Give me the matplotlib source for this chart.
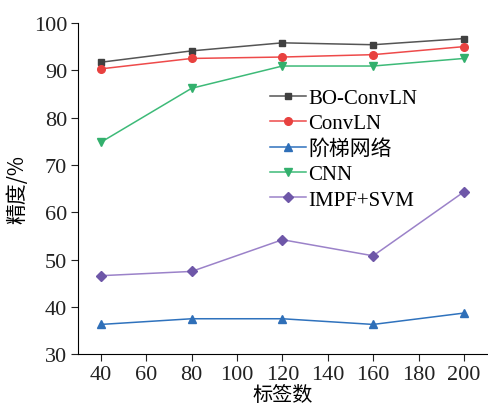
import matplotlib
matplotlib.use('Agg')
import matplotlib.pyplot as plt

plt.rcParams['font.family'] = ['Liberation Serif', 'Noto Sans CJK SC']

x = [40, 80, 120, 160, 200]
bo_convln = [91.7, 94.1, 95.8, 95.4, 96.7]
convln = [90.3, 92.5, 92.8, 93.3, 95.0]
ladder = [36.3, 37.5, 37.5, 36.3, 38.7]
cnn = [74.8, 86.2, 90.9, 90.9, 92.5]
impf_svm = [46.6, 47.5, 54.2, 50.8, 64.3]
names = ['BO-ConvLN', 'ConvLN', '阶梯网络', 'CNN', 'IMPF+SVM']

fig = plt.figure(figsize=(4.89, 4.06), dpi=100)
ax = fig.add_axes([0.16, 0.125, 0.835, 0.816])

ax.plot(x, bo_convln, color='#555555', marker='s', ms=5, mfc='#404040', mec='#404040', lw=1.1, label=names[0])
ax.plot(x, convln, color='#ee4a4a', marker='o', ms=5.5, mfc='#e8413f', mec='#e8413f', lw=1.1, label=names[1])
ax.plot(x, ladder, color='#2f72bd', marker='^', ms=6, mfc='#2f6fb8', mec='#2f6fb8', lw=1.1, label=names[2])
ax.plot(x, cnn, color='#3dba78', marker='v', ms=6, mfc='#33b06d', mec='#33b06d', lw=1.1, label=names[3])
ax.plot(x, impf_svm, color='#9b82c9', marker='D', ms=5, mfc='#6e57a8', mec='#6e57a8', lw=1.1, label=names[4])

ax.set_xlim(30, 210)
ax.set_ylim(30, 100)
ax.set_xticks(range(40, 201, 20))
ax.set_yticks(range(30, 101, 10))
ax.spines['top'].set_visible(False)
ax.spines['right'].set_visible(False)
ax.tick_params(direction='out', length=5, labelsize=16, colors='#222222', pad=3)
ax.set_xlabel('标签数', fontsize=14.5, labelpad=0, family=['Noto Sans CJK SC'])
ax.set_ylabel('精度/%', fontsize=15, labelpad=4, family=['Noto Sans CJK SC', 'Liberation Serif'])

leg = ax.legend(loc='upper left', bbox_to_anchor=(0.45, 0.828), frameon=False, fontsize=15,
                handlelength=1.7, handletextpad=0.12, labelspacing=0.28, borderaxespad=0)
for t in leg.get_texts():
    t.set_family(['Liberation Serif', 'Noto Sans CJK SC'])

fig.savefig('out.png', dpi=100)
